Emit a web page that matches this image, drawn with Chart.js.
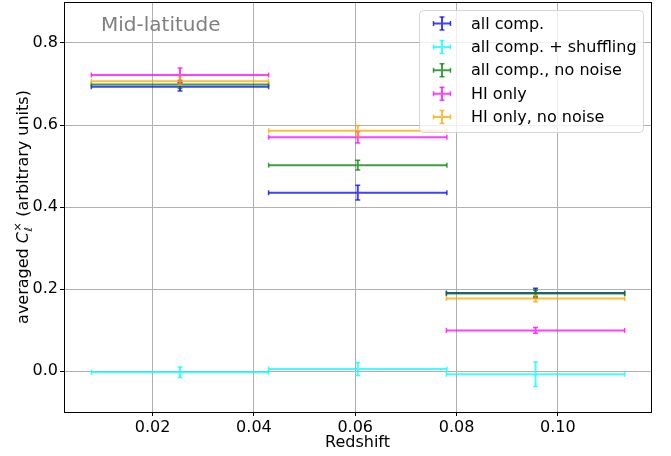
<!DOCTYPE html>
<html>
<head>
<meta charset="utf-8">
<script src="https://cdn.jsdelivr.net/npm/chart.js@4.4.1/dist/chart.umd.min.js"></script>
<style>
  html, body { margin: 0; padding: 0; background: #fff; }
</style>
</head>
<body>
<canvas id="chart-cx" width="671" height="456"></canvas>
<script>
// redshift bins (centre and half width)
const redshift = [0.0254, 0.0605, 0.0956];
const binHalfWidth = [0.0175, 0.0176, 0.0176];

const seriesLabels = ['all comp.', 'all comp. + shuffling', 'all comp., no noise', 'HI only', 'HI only, no noise'];

const allComp = [0.693, 0.435, 0.190];
const allCompErr = [0.010, 0.018, 0.012];
const allCompShuffled = [-0.003, 0.005, -0.008];
const allCompShuffledErr = [0.013, 0.016, 0.030];
const allCompNoNoise = [0.699, 0.502, 0.189];
const allCompNoNoiseErr = [0.010, 0.012, 0.008];
const hiOnly = [0.722, 0.570, 0.099];
const hiOnlyErr = [0.017, 0.014, 0.007];
const hiOnlyNoNoise = [0.707, 0.586, 0.177];
const hiOnlyNoNoiseErr = [0.010, 0.013, 0.008];

const xTicks = [0.02, 0.04, 0.06, 0.08, 0.10];
const yTicks = [0.0, 0.2, 0.4, 0.6, 0.8];

const FONT = 'DejaVu Sans';
const colors = ['rgba(0,0,255,0.75)', 'rgba(0,255,255,0.75)', 'rgba(0,128,0,0.75)', 'rgba(255,0,255,0.75)', 'rgba(255,165,0,0.75)'];
const values = [allComp, allCompShuffled, allCompNoNoise, hiOnly, hiOnlyNoNoise];
const errors = [allCompErr, allCompShuffledErr, allCompNoNoiseErr, hiOnlyErr, hiOnlyNoNoiseErr];

function points(vals) {
  return vals.map((v, i) => ({ x: redshift[i], y: v }));
}

const datasets = seriesLabels.map((lab, k) => ({
  label: lab,
  data: points(values[k]),
  xErr: binHalfWidth,
  yErr: errors[k],
  borderColor: colors[k],
  backgroundColor: colors[k],
  pointRadius: 0,
  showLine: false
}));

// draws the x/y error bars with caps through the chart scales
const errorBars = {
  id: 'errorBars',
  afterDatasetsDraw(chart) {
    const { ctx, chartArea, scales: { x, y } } = chart;
    ctx.save();
    ctx.beginPath();
    ctx.rect(chartArea.left, chartArea.top, chartArea.right - chartArea.left, chartArea.bottom - chartArea.top);
    ctx.clip();
    chart.data.datasets.forEach(ds => {
      ctx.strokeStyle = ds.borderColor;
      ds.data.forEach((p, j) => {
        const px = x.getPixelForValue(p.x), py = y.getPixelForValue(p.y);
        const xl = x.getPixelForValue(p.x - ds.xErr[j]), xr = x.getPixelForValue(p.x + ds.xErr[j]);
        const yt = y.getPixelForValue(p.y + ds.yErr[j]), yb = y.getPixelForValue(p.y - ds.yErr[j]);
        ctx.lineWidth = 2;
        ctx.beginPath();
        ctx.moveTo(xl, py); ctx.lineTo(xr, py);
        ctx.moveTo(px, yt); ctx.lineTo(px, yb);
        ctx.stroke();
        ctx.lineWidth = 1.5;
        ctx.beginPath();
        ctx.moveTo(xl, py - 2.5); ctx.lineTo(xl, py + 2.5);
        ctx.moveTo(xr, py - 2.5); ctx.lineTo(xr, py + 2.5);
        ctx.moveTo(px - 2.5, yt); ctx.lineTo(px + 2.5, yt);
        ctx.moveTo(px - 2.5, yb); ctx.lineTo(px + 2.5, yb);
        ctx.stroke();
      });
    });
    ctx.restore();
  }
};

// frame, titles, panel label and legend
const decorations = {
  id: 'decorations',
  afterDraw(chart) {
    const { ctx, chartArea: a } = chart;
    ctx.save();
    ctx.strokeStyle = '#000';
    ctx.lineWidth = 1;
    ctx.strokeRect(Math.round(a.left) + 0.5, Math.round(a.top) + 0.5, Math.round(a.right - a.left), Math.round(a.bottom - a.top));

    // panel label
    ctx.fillStyle = '#808080';
    ctx.font = '20px ' + FONT;
    ctx.textAlign = 'left';
    ctx.textBaseline = 'alphabetic';
    ctx.fillText('Mid-latitude', 101, 31);

    // x title
    ctx.fillStyle = '#000';
    ctx.font = '16px ' + FONT;
    ctx.textAlign = 'center';
    ctx.fillText('Redshift', (a.left + a.right) / 2, 447);

    // y title with C_l^x
    ctx.save();
    ctx.translate(28, (a.top + a.bottom) / 2);
    ctx.rotate(-Math.PI / 2);
    ctx.textAlign = 'left';
    const p1 = 'averaged ', p3 = ' (arbitrary units)';
    ctx.font = '16px ' + FONT;
    const w1 = ctx.measureText(p1).width, w3 = ctx.measureText(p3).width;
    ctx.font = 'italic 16px ' + FONT;
    const wC = ctx.measureText('C').width;
    ctx.font = '11px ' + FONT;
    const wSup = ctx.measureText('×').width;
    const wsub = 7;
    const total = w1 + wC + Math.max(wSup, wsub) + 1 + w3;
    let cx = -total / 2;
    ctx.font = '16px ' + FONT;
    ctx.fillText(p1, cx, 0); cx += w1;
    ctx.font = 'italic 16px ' + FONT;
    ctx.fillText('C', cx, 0); cx += wC + 0.5;
    ctx.font = '11px ' + FONT;
    ctx.fillText('×', cx, -7);
    ctx.font = 'italic 11px ' + FONT;
    ctx.fillText('ℓ', cx, 4);
    cx += Math.max(wSup, wsub) + 0.5;
    ctx.font = '16px ' + FONT;
    ctx.fillText(p3, cx, 0);
    ctx.restore();

    // legend
    const lx = 419.5, ly = 10.5, lw = 224, lh = 122, r = 4;
    ctx.beginPath();
    ctx.moveTo(lx + r, ly);
    ctx.arcTo(lx + lw, ly, lx + lw, ly + lh, r);
    ctx.arcTo(lx + lw, ly + lh, lx, ly + lh, r);
    ctx.arcTo(lx, ly + lh, lx, ly, r);
    ctx.arcTo(lx, ly, lx + lw, ly, r);
    ctx.closePath();
    ctx.fillStyle = 'rgba(255,255,255,0.8)';
    ctx.fill();
    ctx.strokeStyle = 'rgba(204,204,204,0.8)';
    ctx.stroke();
    ctx.font = '16px ' + FONT;
    ctx.textAlign = 'left';
    ctx.textBaseline = 'middle';
    chart.data.datasets.forEach((ds, k) => {
      const cy = 23.5 + k * 23.4, sx = 442;
      ctx.strokeStyle = ds.borderColor;
      ctx.lineWidth = 2;
      ctx.beginPath();
      ctx.moveTo(sx - 8.5, cy); ctx.lineTo(sx + 8.5, cy);
      ctx.moveTo(sx, cy - 6.5); ctx.lineTo(sx, cy + 6.5);
      ctx.stroke();
      ctx.lineWidth = 1.5;
      ctx.beginPath();
      ctx.moveTo(sx - 8.5, cy - 2.5); ctx.lineTo(sx - 8.5, cy + 2.5);
      ctx.moveTo(sx + 8.5, cy - 2.5); ctx.lineTo(sx + 8.5, cy + 2.5);
      ctx.moveTo(sx - 2.5, cy - 6.5); ctx.lineTo(sx + 2.5, cy - 6.5);
      ctx.moveTo(sx - 2.5, cy + 6.5); ctx.lineTo(sx + 2.5, cy + 6.5);
      ctx.stroke();
      ctx.fillStyle = '#000';
      ctx.fillText(ds.label, 471, cy + 1);
    });
    ctx.restore();
  }
};

const tickFont = { family: FONT, size: 16 };
const gridOpts = { color: '#b0b0b0', lineWidth: 1, tickLength: 4, tickColor: '#000', tickWidth: 1 };

new Chart(document.getElementById('chart-cx').getContext('2d'), {
  type: 'scatter',
  data: { datasets: datasets },
  options: {
    responsive: false,
    animation: false,
    layout: { padding: { left: 0, right: 20, top: 2, bottom: 0 } },
    plugins: { legend: { display: false }, tooltip: { enabled: false } },
    scales: {
      x: {
        type: 'linear', min: 0.0025, max: 0.1184,
        afterBuildTicks: s => { s.ticks = xTicks.map(v => ({ value: v })); },
        afterFit: s => { s.height = 44; s.paddingLeft = 0; s.paddingRight = 0; },
        ticks: { font: tickFont, color: '#000', padding: 2, maxRotation: 0, autoSkip: false,
                 callback: v => v.toFixed(2) },
        grid: gridOpts,
        border: { display: true, color: '#000', width: 1 }
      },
      y: {
        type: 'linear', min: -0.1, max: 0.9,
        afterBuildTicks: s => { s.ticks = yTicks.map(v => ({ value: v })); },
        afterFit: s => { s.width = 64; s.paddingTop = 0; s.paddingBottom = 0; },
        ticks: { font: tickFont, color: '#000', padding: 2, autoSkip: false,
                 callback: v => v.toFixed(1) },
        grid: gridOpts,
        border: { display: true, color: '#000', width: 1 }
      }
    }
  },
  plugins: [errorBars, decorations]
});
</script>
</body>
</html>
